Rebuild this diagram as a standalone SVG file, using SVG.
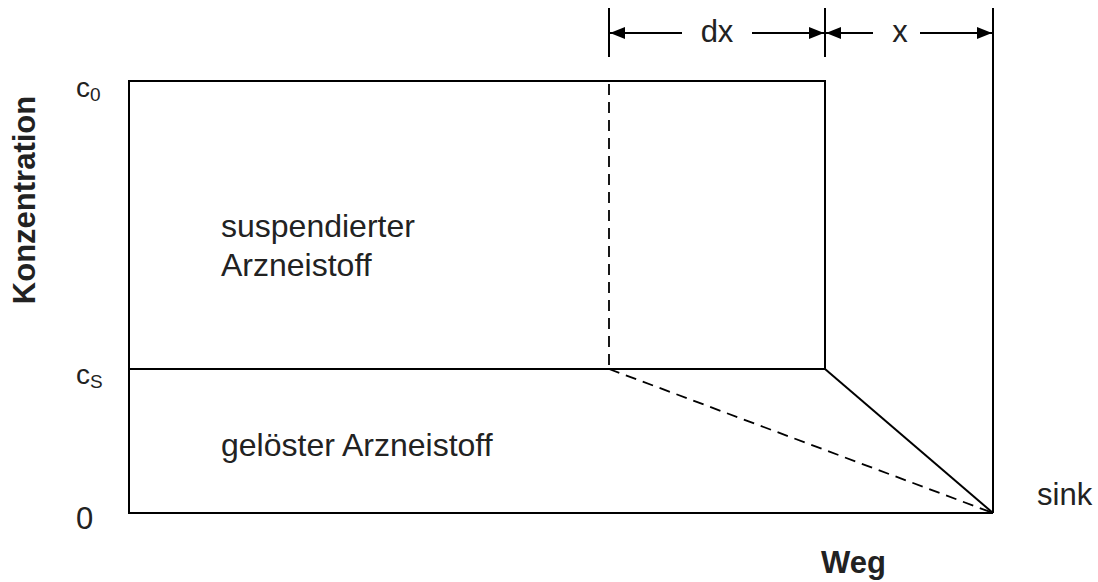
<svg xmlns="http://www.w3.org/2000/svg" width="1098" height="582" viewBox="0 0 1098 582">
  <defs>
    <marker id="ah" viewBox="0 0 15 12" refX="15" refY="6" markerWidth="15" markerHeight="12" markerUnits="userSpaceOnUse" orient="auto">
      <path d="M0,0 L15,6 L0,12 Z" fill="#000"/>
    </marker>
    <style>
      .ln { stroke:#000; stroke-width:2; fill:none; }
      .dash { stroke:#000; stroke-width:1.8; fill:none; stroke-dasharray:11 7; }
      .t { font-family:"Liberation Sans", Arial, sans-serif; font-size:31px; fill:#222; }
      .m { font-size:32px; }
      .b { font-family:"Liberation Sans", Arial, sans-serif; font-size:31px; font-weight:bold; fill:#222; }
    </style>
  </defs>
  <rect width="1098" height="582" fill="#fff"/>

  <g id="connectors">
    <polyline class="ln" points="825,369 825,81 129,81 129,513 993,513"/>
    <line class="ln" x1="129" y1="369" x2="825" y2="369"/>
    <line class="ln" x1="993" y1="8" x2="993" y2="513"/>
    <line class="ln" x1="825" y1="369" x2="993" y2="513"/>
    <line class="dash" x1="609" y1="84" x2="609" y2="369"/>
    <line class="dash" x1="609" y1="369" x2="993" y2="513"/>
    <line class="ln" x1="609" y1="8" x2="609" y2="57"/>
    <line class="ln" x1="825" y1="8" x2="825" y2="57"/>
    <line class="ln" x1="682" y1="33" x2="610" y2="33" marker-end="url(#ah)"/>
    <line class="ln" x1="752" y1="33" x2="824" y2="33" marker-end="url(#ah)"/>
    <line class="ln" x1="873" y1="33" x2="826" y2="33" marker-end="url(#ah)"/>
    <line class="ln" x1="920" y1="33" x2="992" y2="33" marker-end="url(#ah)"/>
  </g>

  <g id="label-dx"><text class="t" x="717" y="42" text-anchor="middle" font-size="29">dx</text></g>
  <g id="label-x"><text class="t" x="900" y="42" text-anchor="middle" font-size="29">x</text></g>

  <g id="label-c0"><text class="t" x="76" y="97" style="font-size:28px">c<tspan dy="4" style="font-size:19px">0</tspan></text></g>
  <g id="label-cs"><text class="t" x="76" y="384" style="font-size:28px">c<tspan dy="4" style="font-size:19px">S</tspan></text></g>
  <g id="label-0"><text class="t" x="76" y="529">0</text></g>

  <g id="label-suspendiert"><text class="t m" x="221" y="237">suspendierter</text><text class="t m" x="221" y="276">Arzneistoff</text></g>
  <g id="label-geloest"><text class="t m" x="221" y="456">gelöster Arzneistoff</text></g>
  <g id="label-sink"><text class="t" x="1037" y="505">sink</text></g>

  <g id="axis-y"><text class="b" transform="translate(35,200) rotate(-90)" text-anchor="middle">Konzentration</text></g>
  <g id="axis-x"><text class="b" x="821" y="573">Weg</text></g>
</svg>
